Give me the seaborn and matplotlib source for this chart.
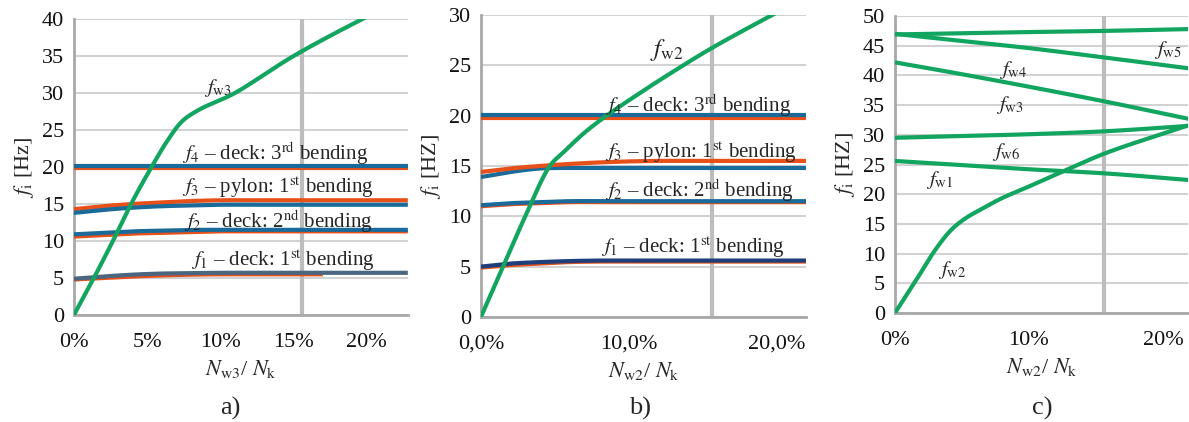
import numpy as np
import pandas as pd
import seaborn as sns
import matplotlib
matplotlib.use("Agg")
import matplotlib.pyplot as plt
from matplotlib.ticker import FuncFormatter, MultipleLocator

sns.set_theme(style="white")
plt.rcParams['font.family'] = ['Liberation Serif', 'DejaVu Serif']
plt.rcParams['mathtext.fontset'] = 'stix'

# ---------------- data (x in % of N_k, y in Hz) ----------------
# Panel a
a_fw3_x = [0, 1.36, 2.66, 3.9, 5.3, 6.4, 7.4, 8.6, 10.9, 15.0, 19.7, 22.8]
a_fw3_y = [0, 5, 10, 15, 20, 23.6, 26.2, 27.8, 29.9, 35.0, 40.0, 43.0]
a_x = [0, 2, 4, 6, 8, 10, 12, 15.6, 18, 22.8]
a_f4_blue = [20.2, 20.2, 20.2, 20.2, 20.2, 20.2, 20.2, 20.2, 20.2, 20.2]
a_f4_orng = [19.8, 19.8, 19.8, 19.8, 19.8, 19.8, 19.8, 19.8, 19.8, 19.8]
a_f3_orng = [14.3, 14.7, 15.0, 15.2, 15.4, 15.5, 15.5, 15.5, 15.5, 15.5]
a_f3_blue = [13.8, 14.2, 14.5, 14.7, 14.8, 14.9, 14.9, 14.9, 14.9, 14.9]
a_f2_blue = [10.9, 11.1, 11.3, 11.4, 11.5, 11.5, 11.5, 11.5, 11.5, 11.5]
a_f2_orng = [10.6, 10.8, 11.0, 11.1, 11.2, 11.3, 11.3, 11.3, 11.3, 11.3]
a_f1_slate = [4.9, 5.2, 5.45, 5.6, 5.65, 5.7, 5.7, 5.7, 5.7, 5.7]
a_f1_orng_x = [0, 2, 4, 6, 8, 10, 12, 15.6, 17.0]
a_f1_orng = [4.8, 5.0, 5.2, 5.35, 5.45, 5.5, 5.5, 5.5, 5.5]

# Panel b
b_fw2_x = [0, 1.5, 3.0, 4.66, 5.54, 7.0, 8.5, 10.5, 12.6, 15.6, 19.7, 22.0]
b_fw2_y = [0, 5, 10, 15, 16.3, 18.3, 20.0, 22.0, 24.0, 26.7, 30.0, 31.8]
b_x = [0, 2, 4, 6, 8, 10, 12, 15.6, 18, 22.0]
b_f4_blue = [20.1, 20.1, 20.1, 20.1, 20.1, 20.1, 20.1, 20.1, 20.1, 20.1]
b_f4_orng = [19.8, 19.8, 19.8, 19.8, 19.8, 19.8, 19.8, 19.8, 19.8, 19.8]
b_f3_orng = [14.4, 14.75, 15.0, 15.2, 15.35, 15.45, 15.5, 15.5, 15.5, 15.5]
b_f3_blue = [13.9, 14.4, 14.75, 14.8, 14.8, 14.8, 14.8, 14.8, 14.8, 14.8]
b_f2_blue = [11.1, 11.3, 11.4, 11.5, 11.5, 11.5, 11.5, 11.5, 11.5, 11.5]
b_f2_orng = [11.0, 11.2, 11.3, 11.4, 11.4, 11.4, 11.4, 11.4, 11.4, 11.4]
b_f1_navy = [5.0, 5.3, 5.45, 5.55, 5.6, 5.6, 5.6, 5.6, 5.6, 5.6]
b_f1_orng = [4.9, 5.15, 5.3, 5.45, 5.5, 5.5, 5.5, 5.5, 5.5, 5.5]

# Panel c
c_x = [0, 5, 10, 15.7, 21.9]
c_fw5 = [46.9, 47.1, 47.3, 47.5, 47.8]
c_fw4 = [47.0, 45.8, 44.6, 43.0, 41.2]
c_fw3 = [42.2, 40.2, 38.1, 35.6, 32.7]
c_fw6 = [29.5, 29.8, 30.1, 30.6, 31.5]
c_fw1 = [25.6, 24.9, 24.2, 23.5, 22.4]
c_fw2_x = [0, 1.6, 3.0, 4.2, 5.3, 6.3, 7.95, 10.0, 12.6, 15.7, 21.9]
c_fw2_y = [0, 5.6, 10.6, 14.0, 16.0, 17.3, 19.3, 21.3, 23.9, 26.9, 31.6]

vline_x = 15.6

# ---------------- colors ----------------
BLUE = '#1a6a9a'
ORNG = '#e8501a'
GREEN = '#12a560'
SLATE = '#4a6680'
NAVY = '#1f3f7a'
GRID = '#d2d2d2'
VGRAY = '#bdbdbd'
SPINE = '#a8a8a8'

fig = plt.figure(figsize=(11.89, 4.22), dpi=100)
ax_a = fig.add_axes([0.0622, 0.2536, 0.343 - 0.0622, 0.955 - 0.2536])
ax_b = fig.add_axes([0.4045, 0.249, 0.678 - 0.4045, 0.9645 - 0.249])
ax_c = fig.add_axes([0.7527, 0.2583, 0.9995 - 0.7527, 0.962 - 0.2583])

LW = 3.0
FS = 15      # annotations
TFS = 16     # tick / axis labels


def smooth(xs, ys, sx, sy, n=30, alpha=0.5):
    """Centripetal Catmull-Rom spline (like Excel 'smoothed line'),
    computed in approximate pixel space (sx, sy = px per data unit)."""
    P = np.column_stack([np.asarray(xs, float) * sx, np.asarray(ys, float) * sy])
    P = np.vstack([2 * P[0] - P[1], P, 2 * P[-1] - P[-2]])
    out = []
    for i in range(1, len(P) - 2):
        p0, p1, p2, p3 = P[i - 1], P[i], P[i + 1], P[i + 2]
        t0 = 0.0
        t1 = t0 + max(np.linalg.norm(p1 - p0), 1e-6) ** alpha
        t2 = t1 + max(np.linalg.norm(p2 - p1), 1e-6) ** alpha
        t3 = t2 + max(np.linalg.norm(p3 - p2), 1e-6) ** alpha
        t = np.linspace(t1, t2, n, endpoint=False)[:, None]
        a1 = (t1 - t) / (t1 - t0) * p0 + (t - t0) / (t1 - t0) * p1
        a2 = (t2 - t) / (t2 - t1) * p1 + (t - t1) / (t2 - t1) * p2
        a3 = (t3 - t) / (t3 - t2) * p2 + (t - t2) / (t3 - t2) * p3
        b1 = (t2 - t) / (t2 - t0) * a1 + (t - t0) / (t2 - t0) * a2
        b2 = (t3 - t) / (t3 - t1) * a2 + (t - t1) / (t3 - t1) * a3
        c = (t2 - t) / (t2 - t1) * b1 + (t - t1) / (t2 - t1) * b2
        out.append(c)
    out.append(P[-2][None, :])
    out = np.vstack(out)
    return out[:, 0] / sx, out[:, 1] / sy


def draw(ax, xs, ys, color, sx, sy, lw=LW):
    xx, yy = smooth(xs, ys, sx, sy)
    sns.lineplot(x=xx, y=yy, ax=ax, color=color, linewidth=lw, sort=False,
                 estimator=None, legend=False, zorder=3, solid_capstyle='butt')


def style(ax, ymax, xmax, xticks, fmt, ylabel, xlabel):
    ax.set_xlim(0, xmax)
    ax.set_ylim(0, ymax)
    ax.yaxis.set_major_locator(MultipleLocator(5))
    ax.set_xticks(xticks)
    ax.xaxis.set_major_formatter(FuncFormatter(fmt))
    ax.grid(axis='y', color=GRID, linewidth=1.5, zorder=0)
    ax.grid(axis='x', visible=False)
    for s in ['top', 'right']:
        ax.spines[s].set_visible(False)
    for s in ['left', 'bottom']:
        ax.spines[s].set_color(SPINE)
        ax.spines[s].set_linewidth(2.0)
    ax.tick_params(axis='x', direction='in', length=5, width=1.2, color=SPINE,
                   labelsize=TFS, pad=13)
    ax.tick_params(axis='y', length=0, labelsize=TFS, pad=7)
    for lab in ax.get_xticklabels() + ax.get_yticklabels():
        lab.set_color('#111111')
    ax.axvline(vline_x, color=VGRAY, linewidth=3, zorder=2)
    ax.set_ylabel(ylabel, fontsize=TFS, labelpad=4)
    ax.set_xlabel(xlabel, fontsize=TFS, labelpad=4)
    ax.set_axisbelow(True)


pct = lambda v, p: f"{v:.0f}%"
pct_comma = lambda v, p: f"{v:.1f}%".replace('.', ',')

# ---------------- panel a ----------------
ax = ax_a
sx, sy = 14.65, 7.4
for xs, ys, col in [(a_x, a_f4_orng, ORNG), (a_x, a_f4_blue, BLUE),
                    (a_x, a_f3_orng, ORNG), (a_x, a_f3_blue, BLUE),
                    (a_x, a_f2_orng, ORNG), (a_x, a_f2_blue, BLUE),
                    (a_f1_orng_x, a_f1_orng, ORNG), (a_x, a_f1_slate, SLATE),
                    (a_fw3_x, a_fw3_y, GREEN)]:
    draw(ax, xs, ys, col, sx, sy)
style(ax, 40, 22.8, [0, 5, 10, 15, 20], pct, r'$f_{\rm i}$ [Hz]',
      r'$N_{\rm w3}$/ $N_{\rm k}$')
ax.text(9.8, 30.7, r'$f_{\rm w3}$', fontsize=FS, ha='center', va='center')
ax.text(7.4, 21.8, r'$f_4$ – deck: 3$^{\rm rd}$ bending', fontsize=FS, va='center')
ax.text(7.4, 17.2, r'$f_3$ – pylon: 1$^{\rm st}$ bending', fontsize=FS, va='center')
ax.text(7.5, 12.7, r'$f_2$ – deck: 2$^{\rm nd}$ bending', fontsize=FS, va='center')
ax.text(8.0, 7.4, r'$f_1$ – deck: 1$^{\rm st}$ bending', fontsize=FS, va='center')

# ---------------- panel b ----------------
ax = ax_b
sx, sy = 14.8, 10.07
for xs, ys, col in [(b_x, b_f4_orng, ORNG), (b_x, b_f4_blue, BLUE),
                    (b_x, b_f3_blue, BLUE), (b_x, b_f3_orng, ORNG),
                    (b_x, b_f2_orng, ORNG), (b_x, b_f2_blue, BLUE),
                    (b_x, b_f1_orng, ORNG), (b_x, b_f1_navy, NAVY),
                    (b_fw2_x, b_fw2_y, GREEN)]:
    draw(ax, xs, ys, col, sx, sy)
style(ax, 30, 22.0, [0, 10, 20], pct_comma, r'$f_{\rm i}$ [HZ]',
      r'$N_{\rm w2}$/ $N_{\rm k}$')
ax.text(12.6, 26.5, r'$f_{\rm w2}$', fontsize=FS + 3, ha='center', va='center')
ax.text(8.4, 21.0, r'$f_4$ – deck: 3$^{\rm rd}$ bending', fontsize=FS, va='center')
ax.text(8.4, 16.4, r'$f_3$ – pylon: 1$^{\rm st}$ bending', fontsize=FS, va='center')
ax.text(8.4, 12.6, r'$f_2$ – deck: 2$^{\rm nd}$ bending', fontsize=FS, va='center')
ax.text(8.1, 6.9, r'$f_1$ – deck: 1$^{\rm st}$ bending', fontsize=FS, va='center')

# ---------------- panel c ----------------
ax = ax_c
sx, sy = 13.45, 5.94
for ys in [c_fw5, c_fw4, c_fw3, c_fw6, c_fw1]:
    draw(ax, c_x, ys, GREEN, sx, sy)
draw(ax, c_fw2_x, c_fw2_y, GREEN, sx, sy)
style(ax, 50, 21.9, [0, 10, 20], pct, r'$f_{\rm i}$ [HZ]',
      r'$N_{\rm w2}$/ $N_{\rm k}$')
ax.text(20.4, 44.3, r'$f_{\rm w5}$', fontsize=FS, ha='center', va='center')
ax.text(8.8, 40.9, r'$f_{\rm w4}$', fontsize=FS, ha='center', va='center')
ax.text(8.55, 35.0, r'$f_{\rm w3}$', fontsize=FS, ha='center', va='center')
ax.text(8.3, 27.1, r'$f_{\rm w6}$', fontsize=FS, ha='center', va='center')
ax.text(3.35, 22.4, r'$f_{\rm w1}$', fontsize=FS, ha='center', va='center')
ax.text(4.3, 7.2, r'$f_{\rm w2}$', fontsize=FS, ha='center', va='center')

# panel letters
for xc, letter in [(230, 'a)'), (640, 'b)'), (1042, 'c)')]:
    fig.text(xc / 1189, 1 - 408 / 422, letter, ha='center', va='center', fontsize=19)

fig.savefig('out.png', dpi=100)
